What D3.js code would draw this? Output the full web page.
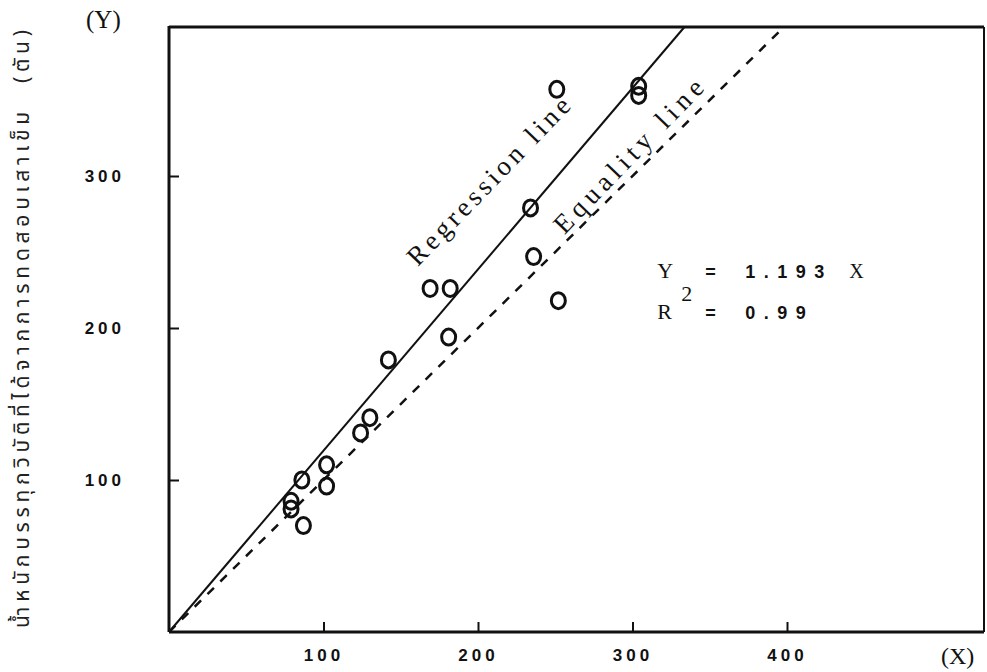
<!DOCTYPE html>
<html>
<head>
<meta charset="utf-8">
<script src="https://cdn.jsdelivr.net/npm/d3@7"></script>
<style>
    body { margin: 0; background: #fff; }
    .tick text { font-family: "Liberation Sans", Arial, sans-serif; font-weight: bold; font-size: 17px; letter-spacing: 4px; fill: #111; }
    .tick line { stroke: #111; stroke-width: 2; }
    .tw { font-family: "Liberation Serif", "Times New Roman", serif; fill: #111; }
    .num { font-family: "Liberation Sans", Arial, sans-serif; font-weight: bold; fill: #111; }
</style>
</head>
<body>
<div id="chartCont"></div>
<script>
// measured pile load vs predicted load (tons)
var xVals = [251, 304, 304, 234, 236, 252, 169, 182, 181, 142, 130, 124, 102, 102, 86, 79, 79, 87];
var yVals = [357, 359, 353, 279, 247, 218, 226, 226, 194, 179, 141, 131, 110, 96, 100, 86, 81, 70];

var xTicks = [100, 200, 300, 400];
var yTicks = [100, 200, 300];

var slope = 1.193;   // regression  Y = 1.193 X
var r2 = '0.99';

var yTitle = 'น้ำหนักบรรทุกวิบัติที่ได้จากการทดสอบเสาเข็ม';
var yUnit = '(ตัน)';

var sc_x, sc_y, sc_svg, sc_g;

function setSizes() {
    return {
        width: 987,
        height: 672,
        margin: {top: 27, right: 3, bottom: 40, left: 169}
    }
}

// spread a text's letters so it covers `len` px (typewriter spacing)
function spreadText(sel, len) {
    var n = sel.text().length;
    var natural = sel.node().getComputedTextLength();
    sel.style('letter-spacing', ((len - natural) / n) + 'px');
}

function genScatter(selector) {
    var sizes = setSizes();
    var width = sizes.width - sizes.margin.left - sizes.margin.right;
    var height = sizes.height - sizes.margin.top - sizes.margin.bottom;

    sc_svg = d3.select(selector).append('svg')
        .attr('width', sizes.width)
        .attr('height', sizes.height);

    sc_g = sc_svg.append('g')
        .attr('transform', 'translate(' + sizes.margin.left + ',' + sizes.margin.top + ')');

    sc_x = d3.scaleLinear().domain([0, width / 1.545]).range([0, width]);
    sc_y = d3.scaleLinear().domain([0, height / 1.52]).range([height, 0]);

    var yMax = sc_y.domain()[1];

    // axes, ticks pointing inwards
    var xa = sc_g.append('g').attr('transform', 'translate(0,' + height + ')')
        .call(d3.axisBottom(sc_x).tickValues(xTicks).tickSize(-10).tickPadding(17));
    xa.select('.domain').remove();

    var ya = sc_g.append('g')
        .call(d3.axisLeft(sc_y).tickValues(yTicks).tickSize(-10).tickPadding(44));
    ya.select('.domain').remove();

    // frame: heavy left/bottom, lighter right
    sc_g.append('line').attr('x1', 0).attr('x2', 0).attr('y1', -1).attr('y2', height)
        .attr('stroke', '#111').attr('stroke-width', 3);
    sc_g.append('line').attr('x1', 0).attr('x2', width).attr('y1', height).attr('y2', height)
        .attr('stroke', '#111').attr('stroke-width', 3);
    sc_g.append('line').attr('x1', 0).attr('x2', width).attr('y1', 0).attr('y2', 0)
        .attr('stroke', '#111').attr('stroke-width', 3);
    sc_g.append('line').attr('x1', width).attr('x2', width).attr('y1', 0).attr('y2', height)
        .attr('stroke', '#111').attr('stroke-width', 2);

    // regression line and equality line
    sc_g.append('line')
        .attr('x1', sc_x(0)).attr('y1', sc_y(0))
        .attr('x2', sc_x(yMax / slope)).attr('y2', sc_y(yMax))
        .attr('stroke', '#111').attr('stroke-width', 2);
    sc_g.append('line')
        .attr('x1', sc_x(0)).attr('y1', sc_y(0))
        .attr('x2', sc_x(yMax)).attr('y2', sc_y(yMax))
        .attr('stroke', '#111').attr('stroke-width', 2.5)
        .attr('stroke-dasharray', '9,9');

    var pts = xVals.map(function (d, i) { return {x: d, y: yVals[i]}; });
    sc_g.append('g').selectAll('ellipse')
        .data(pts)
        .enter()
        .append('ellipse')
        .attr('cx', function (d) { return sc_x(d.x); })
        .attr('cy', function (d) { return sc_y(d.y); })
        .attr('rx', 7)
        .attr('ry', 8)
        .attr('fill', 'none')
        .attr('stroke', '#111')
        .attr('stroke-width', 3);

    // line labels
    var regLbl = sc_g.append('text').attr('class', 'tw')
        .attr('transform', 'translate(' + sc_x(161) + ',' + sc_y(240) + ') rotate(-46)')
        .style('font-size', '27px')
        .text('Regression line');
    spreadText(regLbl, 226);
    var eqLbl = sc_g.append('text').attr('class', 'tw')
        .attr('transform', 'translate(' + sc_x(256) + ',' + sc_y(261) + ') rotate(-46)')
        .style('font-size', '27px')
        .text('Equality line');
    spreadText(eqLbl, 208);

    // equation
    var eq = sc_g.append('g').attr('transform', 'translate(' + sc_x(316) + ',' + sc_y(233) + ')');
    eq.append('text').attr('class', 'tw').style('font-size', '22px').text('Y');
    eq.append('text').attr('x', 48).attr('class', 'num').style('font-size', '18px').text('=');
    eq.append('text').attr('x', 88).attr('class', 'num')
        .style('font-size', '18px').style('letter-spacing', '8.5px')
        .text(d3.format('.3f')(slope));
    eq.append('text').attr('x', 192).attr('class', 'tw').style('font-size', '20px').text('X');

    var eq2 = sc_g.append('g').attr('transform', 'translate(' + sc_x(316) + ',' + sc_y(206) + ')');
    eq2.append('text').attr('class', 'tw').style('font-size', '22px').text('R');
    eq2.append('text').attr('x', 24).attr('y', -18)
        .attr('class', 'tw').style('font-size', '22px').text('2');
    eq2.append('text').attr('x', 48).attr('class', 'num').style('font-size', '18px').text('=');
    eq2.append('text').attr('x', 88).attr('class', 'num')
        .style('font-size', '18px').style('letter-spacing', '8.5px')
        .text(r2);

    // axis names
    sc_svg.append('text').attr('class', 'tw')
        .attr('x', 86).attr('y', 28)
        .style('font-size', '25px')
        .text('(Y)');
    sc_svg.append('text').attr('class', 'tw')
        .attr('x', 941).attr('y', 664)
        .style('font-size', '24px')
        .text('(X)');

    // thai y title, rotated, spread to the height of the frame
    var yt = sc_svg.append('text')
        .attr('transform', 'translate(29,628) rotate(-90)')
        .attr('textLength', 598).attr('lengthAdjust', 'spacing')
        .style('font-family', '"Noto Sans Thai", "Noto Serif Thai", "Loma", "Garuda", "Norasi", sans-serif')
        .style('font-size', '21px')
        .style('fill', '#222');
    yt.append('tspan').text(yTitle);
    yt.append('tspan').attr('dx', 24).text(yUnit);
}

genScatter('#chartCont');
</script>
</body>
</html>
